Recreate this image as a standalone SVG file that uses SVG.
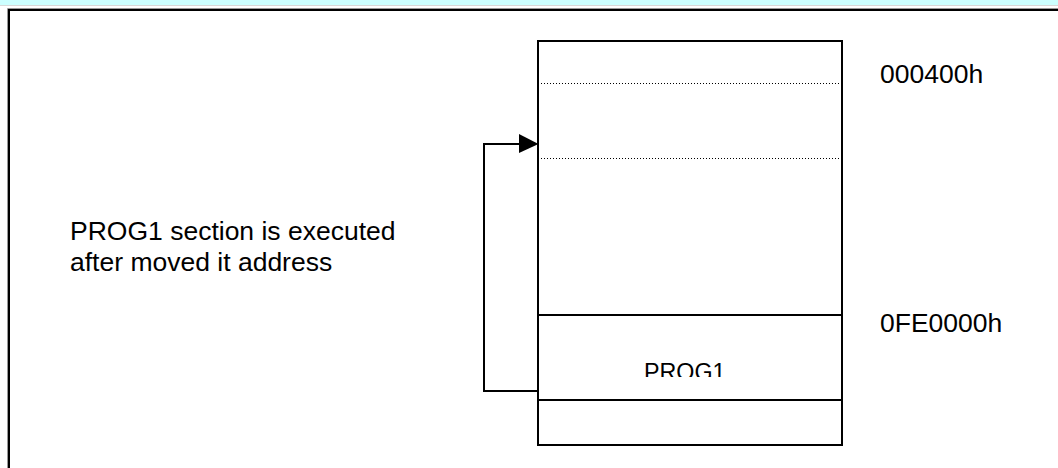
<svg xmlns="http://www.w3.org/2000/svg" width="1058" height="468" viewBox="0 0 1058 468">
  <style>
    .t { font-family: "Liberation Sans", Arial, sans-serif; fill: #000; }
    .big { font-size: 26.5px; }
    .box { fill: none; stroke: #000; stroke-width: 2; }
    .dot { stroke: #000; stroke-width: 1; stroke-dasharray: 1 2; }
    .conn { fill: none; stroke: #000; stroke-width: 2; }
  </style>
  <defs>
    <clipPath id="progClip"><rect x="540" y="316" width="300" height="61"/></clipPath>
  </defs>
  <rect x="0" y="0" width="1058" height="468" fill="#fff"/>
  <g id="frame">
    <rect x="0" y="0" width="1058" height="5.3" fill="#ccffff"/>
    <line x1="0" y1="5.5" x2="1058" y2="5.5" stroke="#d8d8d8" stroke-width="1"/>
    <line x1="7.5" y1="8.5" x2="1058" y2="8.5" stroke="#999" stroke-width="1"/>
    <line x1="7.5" y1="8.5" x2="7.5" y2="468" stroke="#999" stroke-width="1"/>
    <line x1="8" y1="10" x2="1058" y2="10" stroke="#000" stroke-width="2"/>
    <line x1="9" y1="9" x2="9" y2="468" stroke="#000" stroke-width="2"/>
  </g>
  <g id="memory">
    <rect class="box" x="538" y="41" width="304" height="404"/>
    <line class="dot" x1="541" y1="83.5" x2="843" y2="83.5"/>
    <line class="dot" x1="541" y1="158.5" x2="843" y2="158.5"/>
    <line class="box" x1="538" y1="315" x2="843" y2="315"/>
    <line class="box" x1="538" y1="400" x2="843" y2="400"/>
  </g>
  <g id="prog1">
    <text class="t" x="644" y="380" font-size="23.3px" clip-path="url(#progClip)">PROG1</text>
  </g>
  <g id="addr-000400h">
    <text class="t big" x="880" y="83">000400h</text>
  </g>
  <g id="addr-0FE0000h">
    <text class="t big" x="880" y="332">0FE0000h</text>
  </g>
  <g id="note">
    <text class="t big" x="70" y="240">PROG1 section is executed</text>
    <text class="t big" x="70" y="271">after moved it address</text>
  </g>
  <g id="connectors">
    <polyline class="conn" points="538,391 484,391 484,144 521,144"/>
    <polygon points="519,134 538.5,144 519,153" fill="#000"/>
  </g>
</svg>
